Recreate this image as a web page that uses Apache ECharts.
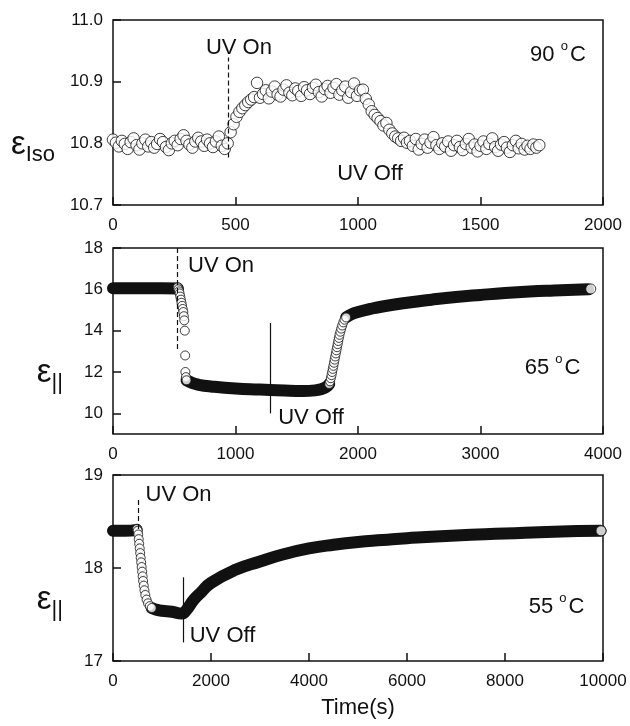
<!DOCTYPE html>
<html>
<head>
<meta charset="utf-8">
<script src="https://cdn.jsdelivr.net/npm/echarts@6/dist/echarts.min.js"></script>
<style>
  html, body { margin: 0; padding: 0; background: #fff; }
  #uvChart { width: 630px; height: 726px; }
</style>
</head>
<body>
<div id="uvChart"></div>
<script>
// 90 °C  - isotropic phase
var isoTime = [
  0,12,24,36,48,60,72,84,96,108,120,132,144,156,168,180,192,204,216,228,240,252,264,276,288,300,312,324,336,348,360,372,384,396,408,420,432,444,456,
  468,480,492,504,516,528,540,552,564,576,588,600,
  612,624,636,648,660,672,684,696,708,720,732,744,756,768,780,792,804,816,828,840,852,864,876,888,900,912,924,936,948,960,972,984,996,1008,
  1020,1032,1044,1056,1068,1080,1092,1104,1116,1128,1140,1152,1164,1176,1188,1200,
  1212,1224,1236,1248,1260,1272,1284,1296,1308,1320,1332,1344,1356,1368,1380,1392,1404,1416,1428,1440,1452,1464,1476,1488,1500,
  1512,1524,1536,1548,1560,1572,1584,1596,1608,1620,1632,1644,1656,1668,1680,1692,1704,1716,1728,1740
];
var isoValue = [
  10.806,10.801,10.795,10.804,10.799,10.791,10.802,10.808,10.797,10.790,
  10.800,10.806,10.795,10.802,10.793,10.799,10.807,10.802,10.794,10.789,
  10.800,10.804,10.797,10.807,10.813,10.804,10.798,10.793,10.803,10.809,
  10.803,10.796,10.806,10.800,10.794,10.803,10.811,10.796,10.791,
  10.800,10.818,10.831,10.843,10.851,10.857,10.862,10.867,10.871,10.875,10.898,10.874,
  10.880,10.886,10.873,10.884,10.892,10.879,10.876,10.887,10.894,10.882,
  10.878,10.889,10.885,10.877,10.891,10.886,10.880,10.890,10.895,10.883,
  10.876,10.888,10.893,10.882,10.890,10.896,10.879,10.886,10.892,10.874,
  10.883,10.897,10.877,10.886,
  10.887,10.872,10.863,10.852,10.846,10.841,10.836,10.829,10.833,10.822,10.816,10.811,10.808,10.804,10.809,10.801,
  10.804,10.796,10.807,10.790,10.799,10.806,10.793,10.801,10.810,10.797,
  10.791,10.800,10.795,10.803,10.788,10.797,10.804,10.794,10.789,10.799,
  10.807,10.793,10.798,10.787,10.796,10.803,10.791,10.799,10.808,10.794,
  10.788,10.798,10.802,10.793,10.786,10.797,10.804,10.792,10.799,10.790,
  10.796,10.791,10.798,10.793,10.797
];

// 65 °C
var band65Before = [[0, 16.05], [200, 16.05], [400, 16.05], [530, 16.04]];
var drop65 = [[528, 16.1], [534, 16.0], [539, 15.9], [544, 15.8], [549, 15.65], [554, 15.5], [559, 15.35], [564, 15.2],
  [569, 15.05], [574, 14.9], [578, 14.7], [582, 14.5], [586, 14.0], [589, 12.8], [591, 12.0], [595, 11.75], [600, 11.6]];
var band65Low = [[600, 11.6], [650, 11.46], [700, 11.38], [800, 11.3], [1000, 11.2], [1200, 11.15], [1400, 11.1],
  [1550, 11.08], [1650, 11.11], [1700, 11.17], [1740, 11.27], [1765, 11.42]];
var rise65 = [[1765, 11.42], [1772, 11.55], [1778, 11.7], [1784, 11.85], [1789, 12.0], [1794, 12.15], [1799, 12.3],
  [1804, 12.45], [1809, 12.6], [1814, 12.75], [1819, 12.9], [1824, 13.05], [1829, 13.2], [1834, 13.35], [1839, 13.5],
  [1844, 13.65], [1849, 13.8], [1856, 13.95], [1863, 14.1], [1871, 14.25], [1880, 14.4], [1890, 14.53], [1903, 14.64]];
var band65High = [[1903, 14.64], [1950, 14.8], [2000, 14.9], [2100, 15.05], [2200, 15.17], [2400, 15.35], [2600, 15.5],
  [2800, 15.63], [3000, 15.73], [3200, 15.82], [3400, 15.89], [3600, 15.94], [3880, 16.0]];
var last65 = [[3900, 16.02]];

// 55 °C
var band55Before = [[0, 18.40], [250, 18.40], [485, 18.41]];
var drop55 = [[490, 18.42], [505, 18.40], [515, 18.36], [525, 18.31], [535, 18.26], [545, 18.21], [555, 18.16],
  [565, 18.11], [575, 18.06], [585, 18.01], [595, 17.96], [605, 17.91], [615, 17.86], [628, 17.81], [642, 17.76],
  [660, 17.71], [685, 17.66], [715, 17.62], [750, 17.59], [790, 17.57]];
var band55After = [[790, 17.57], [900, 17.55], [1000, 17.54], [1200, 17.53], [1400, 17.51], [1500, 17.55], [1650, 17.66],
  [1800, 17.74], [2000, 17.84], [2500, 17.98], [3000, 18.07], [3500, 18.15], [4000, 18.21], [4500, 18.25],
  [5000, 18.28], [5500, 18.30], [6000, 18.32], [7000, 18.35], [8000, 18.37], [9000, 18.39], [9950, 18.40]];
var last55 = [[9960, 18.40]];

// ticks
var xTicks1 = { min: 0, max: 2000, interval: 500 };
var xTicks2 = { min: 0, max: 4000, interval: 1000 };
var xTicks3 = { min: 0, max: 10000, interval: 2000 };
var yTicks65 = [10, 12, 14, 16, 18];

var FONT = 'Liberation Sans';
var INK = '#111';

function zip(a, b) {
  return a.map(function (v, i) { return [v, b[i]]; });
}

function xAxisOf(idx, t, name) {
  return {
    type: 'value', gridIndex: idx, min: t.min, max: t.max, interval: t.interval,
    axisLine: { show: false },
    axisTick: { inside: true, length: 8, lineStyle: { color: INK, width: 1.5 } },
    splitLine: { show: false },
    axisLabel: { color: INK, fontSize: 17, fontFamily: FONT, margin: 12, formatter: function (v) { return String(v); } },
    name: name || '', nameLocation: 'middle', nameGap: 36,
    nameTextStyle: { color: INK, fontSize: 22, fontFamily: FONT }
  };
}

function yName() {
  return {
    color: INK, fontFamily: FONT, padding: [64, 0, 0, 0],
    rich: {
      e: { fontSize: 33, fontFamily: FONT, color: INK },
      s: { fontSize: 22, fontFamily: FONT, color: INK, padding: [20, 0, 0, 0] }
    }
  };
}

function yAxisOf(idx, opts) {
  var ax = {
    type: 'value', gridIndex: idx,
    axisLine: { show: false },
    axisTick: { inside: true, length: 8, lineStyle: { color: INK, width: 1.5 } },
    splitLine: { show: false },
    axisLabel: { color: INK, fontSize: 17, fontFamily: FONT, margin: 10 },
    nameLocation: 'middle', nameRotate: 0
  };
  for (var k in opts) ax[k] = opts[k];
  return ax;
}

function vline(x, y0, y1, dashed) {
  return {
    silent: true, symbol: 'none', label: { show: false },
    lineStyle: { color: INK, width: 1.2, type: dashed ? [5, 3] : 'solid' },
    data: [[{ coord: [x, y0] }, { coord: [x, y1] }]]
  };
}

function notes(list) {
  return {
    silent: true, symbol: 'circle', symbolSize: 0,
    label: {
      show: true, position: 'inside', color: INK, fontSize: 22, fontFamily: FONT,
      formatter: function (p) { return p.name; },
      rich: {
        a: { fontSize: 22, fontFamily: FONT, color: INK },
        o: { fontSize: 13, fontFamily: FONT, color: INK, padding: [0, 2, 17, 0] }
      }
    },
    data: list.map(function (n) { return { name: n[2], coord: [n[0], n[1]] }; })
  };
}

function circles(data, xi, size) {
  return {
    type: 'scatter', xAxisIndex: xi, yAxisIndex: xi, data: data,
    symbol: 'circle', symbolSize: size,
    itemStyle: { color: '#fff', borderColor: INK, borderWidth: 1 },
    z: 3
  };
}

function band(data, xi) {
  return {
    type: 'line', xAxisIndex: xi, yAxisIndex: xi, data: data,
    showSymbol: false, smooth: true,
    lineStyle: { color: INK, width: 12, cap: 'round', join: 'round' },
    z: 2
  };
}

var grids = [
  { left: 113, right: 27, top: 20, height: 185 },
  { left: 113, right: 27, top: 248, height: 186 },
  { left: 113, right: 27, top: 475, height: 186 }
].map(function (g) {
  g.show = true; g.borderColor = INK; g.borderWidth = 1.5; g.backgroundColor = 'transparent';
  return g;
});

var s1 = circles(zip(isoTime, isoValue), 0, 11.5);
s1.markLine = vline(472, 10.777, 10.939, true);
s1.markPoint = notes([[514, 10.955, 'UV On'], [1049, 10.75, 'UV Off'], [1816, 10.944, '{a|90 }{o|o}{a|C}']]);

var s2a = band(band65Before, 1);
s2a.markLine = vline(528, 18, 13.05, true);
var s2b = band(band65Low, 1);
s2b.markLine = vline(1282, 14.37, 10.0, false);
var s2c = band(band65High, 1);
s2c.markPoint = notes([[882, 17.13, 'UV On'], [1616, 9.8, 'UV Off'], [3588, 12.22, '{a|65 }{o|o}{a|C}']]);

var s3a = band(band55Before, 2);
s3a.markLine = vline(510, 18.73, 18.41, true);
var s3b = band(band55After, 2);
s3b.markLine = vline(1440, 17.9, 17.2, false);
s3b.markPoint = notes([[1337, 18.785, 'UV On'], [2235, 17.27, 'UV Off'], [9051, 17.58, '{a|55 }{o|o}{a|C}']]);

var option = {
  animation: false,
  backgroundColor: '#fff',
  grid: grids,
  xAxis: [xAxisOf(0, xTicks1), xAxisOf(1, xTicks2), xAxisOf(2, xTicks3, 'Time(s)')],
  yAxis: [
    yAxisOf(0, {
      min: 10.7, max: 11.0, interval: 0.1,
      axisLabel: { color: INK, fontSize: 17, fontFamily: FONT, margin: 10, formatter: function (v) { return v.toFixed(1); } },
      name: '{e|ε}{s|Iso}', nameGap: 58, nameTextStyle: yName()
    }),
    yAxisOf(1, {
      min: 9, max: 18,
      axisLabel: { color: INK, fontSize: 17, fontFamily: FONT, margin: 10, customValues: yTicks65 },
      axisTick: { inside: true, length: 8, lineStyle: { color: INK, width: 1.5 }, customValues: yTicks65 },
      name: '{e|ε}{s|||}', nameGap: 50, nameTextStyle: yName()
    }),
    yAxisOf(2, {
      min: 17, max: 19, interval: 1,
      name: '{e|ε}{s|||}', nameGap: 50, nameTextStyle: yName()
    })
  ],
  series: [
    s1,
    s2a, s2b, s2c,
    circles(drop65, 1, 9), circles(rise65, 1, 9), circles(last65, 1, 10),
    s3a, s3b,
    circles(drop55, 2, 9), circles(last55, 2, 10)
  ]
};

var uvChart = echarts.init(document.getElementById('uvChart'));
uvChart.setOption(option);
</script>
</body>
</html>
